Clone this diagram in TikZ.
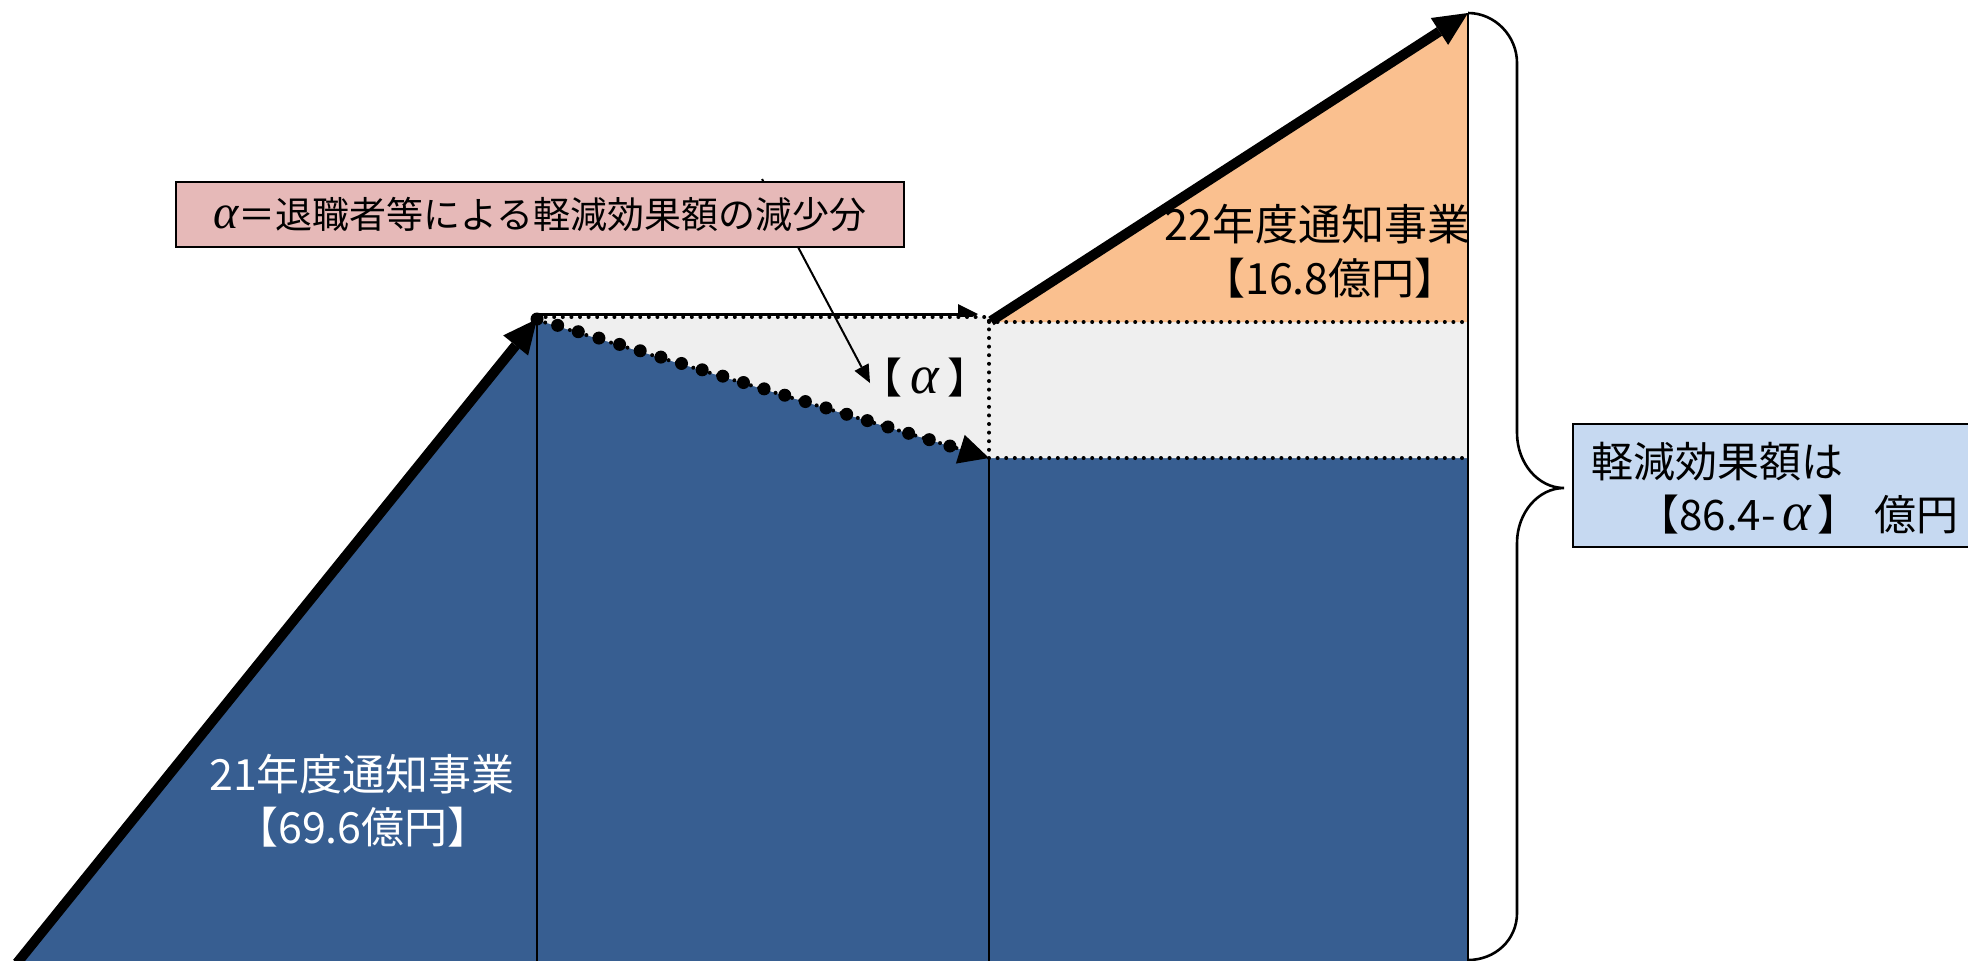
\documentclass[tikz,border=0pt]{standalone}
\usepackage{fontspec}
\setmainfont{Noto Sans CJK JP}
\newfontfamily\alphafont[Scale=1.3]{Liberation Serif}
\newcommand{\alp}{{\alphafont\itshape α}}
\usetikzlibrary{arrows.meta}
\definecolor{barblue}{RGB}{55,94,145}
\definecolor{orangefill}{RGB}{250,192,143}
\definecolor{greyfill}{RGB}{239,239,239}
\definecolor{pinkfill}{RGB}{230,185,184}
\definecolor{lightblue}{RGB}{198,217,241}
\begin{document}
\begin{tikzpicture}[x=0.5pt,y=-0.5pt,
  dotline/.style={line width=2pt, line cap=round, dash pattern=on 0pt off 4.3pt},
  bigdots/.style={line width=6.5pt, line cap=round, dash pattern=on 0pt off 10.8pt},
  vline/.style={line width=1.3pt},
  thickarrow/.style={line width=5pt, -{Triangle[length=17pt,width=16pt,line width=0pt]}},
  thinarrow/.style={line width=1.5pt, -{Triangle[length=10pt,width=10pt,line width=0pt]}},
  callarrow/.style={line width=1pt, -{Triangle[length=9pt,width=8pt,line width=0pt]}},
  headonly/.style={line width=1pt, -{Triangle[length=15pt,width=15pt,line width=0pt]}},
  boxtext/.style={inner sep=0pt, font=\fontsize{21pt}{25pt}\selectfont},
  bartext/.style={inner sep=0pt, font=\fontsize{21.5pt}{26pt}\selectfont},
  pinkbox/.style={draw=black, line width=1.2pt, fill=pinkfill, inner sep=0pt,
    minimum width=364pt, minimum height=32.5pt, font=\fontsize{18.5pt}{22pt}\selectfont},
  bluebox/.style={draw=black, line width=1.2pt, fill=lightblue, inner sep=0pt,
    minimum width=206pt, minimum height=61.5pt},
  bracestyle/.style={line width=1.3pt}
]
\useasboundingbox (0,0) rectangle (1968,960);

% key points
\coordinate (A) at (17,963);
\coordinate (P) at (537,319);
\coordinate (Q) at (989,458);
\coordinate (R) at (1468,458);
\coordinate (S) at (1468,963);
\coordinate (T) at (1468,13);
\coordinate (U) at (991,321);
\coordinate (Qb) at (989,963);
\coordinate (Pb) at (537,963);
\coordinate (topL) at (538,314);
\coordinate (topR) at (978,314);
\coordinate (headstart) at (960.3,449.2);
\coordinate (callstart) at (762,179);
\coordinate (callend) at (870,383);

% blue area
\fill[barblue] (A) -- (P) -- (Q) -- (R) -- (S) -- cycle;

% thin top arrow (lower half hidden by grey)
\draw[thinarrow] (topL) -- (topR);

% grey reduction area
\fill[greyfill] (537,317) -- (989,317) -- (989,322) -- (1468,322) -- (1468,458) -- (Q) -- (537,320) -- cycle;

% orange triangle
\fill[orangefill] (989,322) -- (T) -- (1468,322) -- cycle;

% dotted borders
\draw[dotline] (537,317) -- (989,317) -- (Q);
\draw[dotline] (989,322) -- (1468,322);
\draw[dotline] (Q) -- (R);
\draw[dotline] (537,320) -- (Q);

% vertical lines
\draw[vline] (P) -- (Pb);
\draw[vline] (Q) -- (Qb);
\draw[vline] (T) -- (S);

% big dotted arrow
\draw[bigdots] (P) -- (headstart);
\draw[headonly] (headstart) -- (Q);

% thick arrows
\draw[thickarrow] (A) -- (P);
\draw[thickarrow] (U) -- (T);

% brace
\draw[bracestyle] (T) .. controls (1495,13) and (1517,36) .. (1517,63)
  -- (1517,433) .. controls (1517,463) and (1538,488) .. (1564,488)
  .. controls (1538,488) and (1517,513) .. (1517,543)
  -- (1517,913) .. controls (1517,940) and (1495,960) .. (1468,960);

% callout
\draw[callarrow] (callstart) -- (callend);
\node[pinkbox] (def) at (540,214.5) {\alp＝退職者等による軽減効果額の減少分};

% labels
\node[bartext, text=white] (t21a) at (362,774) {21年度通知事業};
\node[bartext, text=white] (t21b) at (363,827) {【69.6億円】};
\node[bartext, anchor=east] (t22a) at (1471,224) {22年度通知事業};
\node[bartext] (t22b) at (1330,278) {【16.8億円】};
\node[boxtext] (alab) at (925,378) {【\hspace{0.2em}\alp\hspace{0.2em}】};

% summary box
\node[bluebox] (sum) at (1779,485.5) {};
\node[boxtext, anchor=west] (sum1) at (1591,462) {軽減効果額は};
\node[boxtext, anchor=west] (sum2) at (1637,515) {【86.4-\,\alp\hspace{0.15em}】\hspace{0.35em}億円};
\end{tikzpicture}
\end{document}
